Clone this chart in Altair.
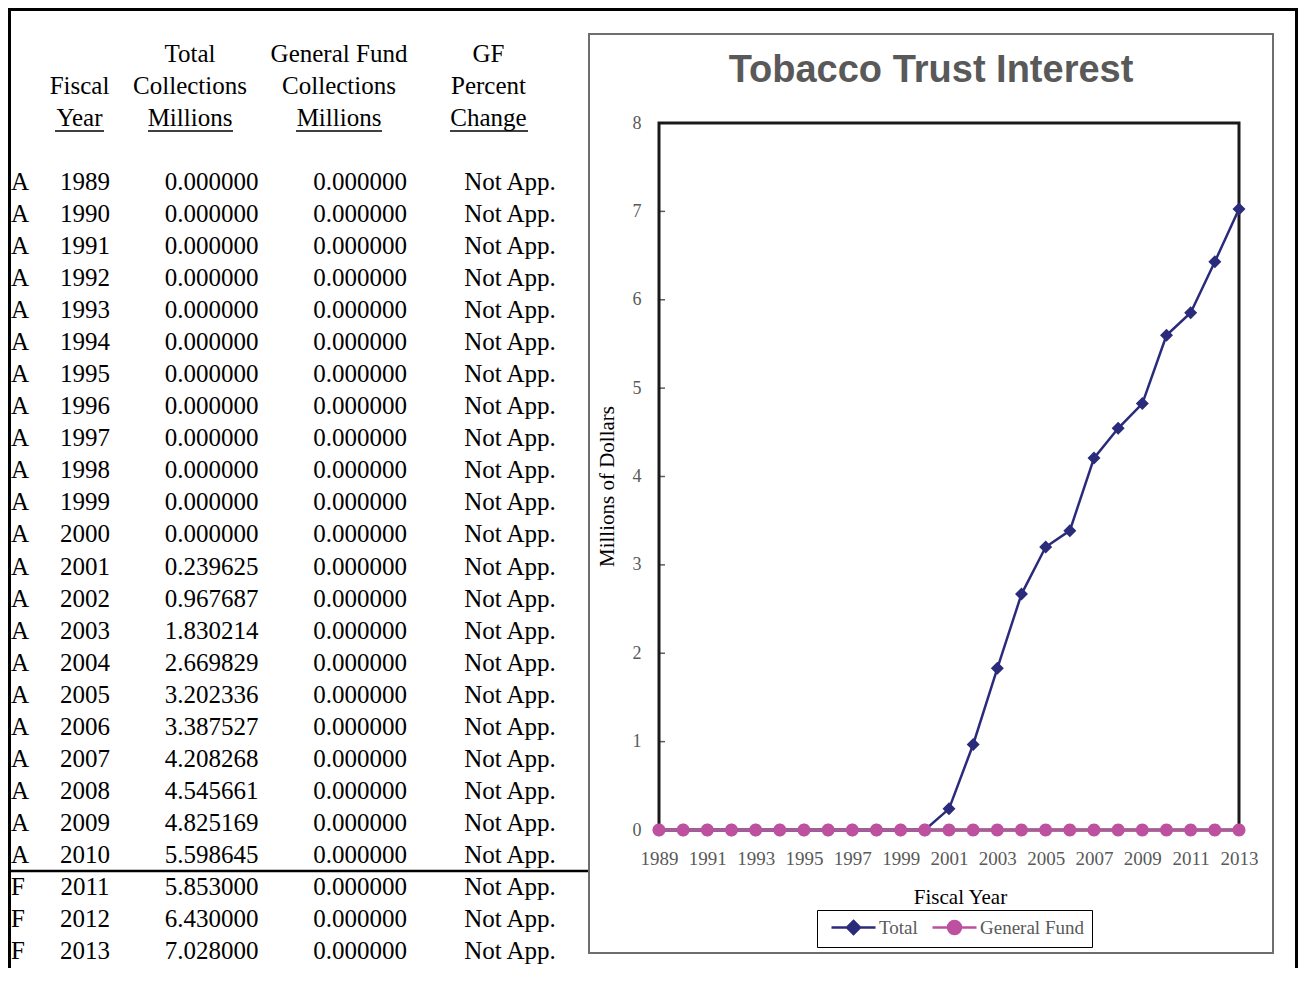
import altair as alt
import pandas as pd

# ---------------- data ----------------
years = list(range(1989, 2014))
flags = ["A"] * 22 + ["F"] * 3
total_collections = [0.0] * 12 + [0.239625, 0.967687, 1.830214, 2.669829, 3.202336,
                                  3.387527, 4.208268, 4.545661, 4.825169, 5.598645,
                                  5.853, 6.43, 7.028]
gf_collections = [0.0] * 25
gf_pct_change = ["Not App."] * 25

series_names = ["Total", "General Fund"]
series_colors = ["#2B2B7B", "#BD51A0"]

header_lines = [
    ["", "Fiscal", "Year"],
    ["Total", "Collections", "Millions"],
    ["General Fund", "Collections", "Millions"],
    ["GF", "Percent", "Change"],
]
x_tick_years = list(range(1989, 2014, 2))
y_ticks = list(range(0, 9))
chart_title = "Tobacco Trust Interest"
x_title = "Fiscal Year"
y_title = "Millions of Dollars"

# ---------------- layout (pixels) ----------------
W, H = 1290, 960
PX = [651, 1231]
PY = [822, 115]
ROWS_Y = [174, 943]
HDR_Y = [46, 110]
SERIF = "Liberation Serif"
TFS = 25

table = pd.DataFrame({"year": years, "flag": flags, "total": total_collections,
                      "gf": gf_collections, "pct": gf_pct_change})
long = pd.DataFrame({
    "series": [s for s in series_names for _ in years],
    "year": years * 2,
    "value": total_collections + gf_collections,
})
hdr = pd.DataFrame([{"col": i, "line": j, "label": t}
                    for i, lines in enumerate(header_lines)
                    for j, t in enumerate(lines) if t])
frame_df = pd.DataFrame({"x0": [years[0]], "x1": [years[-1]],
                         "y0": [y_ticks[0]], "y1": [y_ticks[-1]]})
ytick_df = pd.DataFrame({"v": y_ticks, "x0": [years[0]] * len(y_ticks)})
one = pd.DataFrame({"k": [0]})


def xs():
    return alt.Scale(domain=[years[0], years[-1]], range=PX, nice=False, zero=False)


def ys():
    return alt.Scale(domain=[y_ticks[0], y_ticks[-1]], range=PY, nice=False, zero=False)


def row_y():
    return alt.Y("year:Q", scale=alt.Scale(domain=[years[0], years[-1]], range=ROWS_Y,
                                           nice=False, zero=False), axis=None)


layers = []

# ---- decorative borders ----
layers.append(alt.Chart(one).mark_rule(color="black", strokeWidth=4).encode(
    x=alt.value(1), y=alt.value(0), y2=alt.value(H)))
layers.append(alt.Chart(one).mark_rule(color="black", strokeWidth=4).encode(
    x=alt.value(W - 1), y=alt.value(0), y2=alt.value(H)))
layers.append(alt.Chart(one).mark_rule(color="black", strokeWidth=4).encode(
    x=alt.value(0), x2=alt.value(W), y=alt.value(1)))
layers.append(alt.Chart(one).mark_rule(color="black", strokeWidth=2.5).encode(
    x=alt.value(0), x2=alt.value(582), y=alt.value(863)))
layers.append(alt.Chart(one).mark_rect(filled=False, stroke="#6e6e6e", strokeWidth=2).encode(
    x=alt.value(581), x2=alt.value(1265), y=alt.value(26), y2=alt.value(945)))

# ---- table headers ----
hdr_x = [71.5, 182, 331, 480.5]
for i, cx in enumerate(hdr_x):
    layers.append(alt.Chart(hdr).transform_filter(alt.datum.col == i).mark_text(
        align="center", baseline="middle", font=SERIF, fontSize=TFS, color="black").encode(
        x=alt.value(cx),
        y=alt.Y("line:Q", scale=alt.Scale(domain=[0, 2], range=HDR_Y, nice=False, zero=False), axis=None),
        text="label:N"))
for (a, b) in [(47, 96), (140, 225), (288, 374), (442, 520)]:
    layers.append(alt.Chart(one).mark_rule(color="black", strokeWidth=1.5).encode(
        x=alt.value(a), x2=alt.value(b), y=alt.value(123)))

# ---- table rows ----
layers.append(alt.Chart(table).mark_text(align="left", baseline="middle", font=SERIF,
                                         fontSize=TFS, color="black").encode(
    x=alt.value(3), y=row_y(), text="flag:N"))
layers.append(alt.Chart(table).mark_text(align="center", baseline="middle", font=SERIF,
                                         fontSize=TFS, color="black").encode(
    x=alt.value(77), y=row_y(), text=alt.Text("year:Q", format="d")))
layers.append(alt.Chart(table).mark_text(align="center", baseline="middle", font=SERIF,
                                         fontSize=TFS, color="black").encode(
    x=alt.value(203.5), y=row_y(), text=alt.Text("total:Q", format=".6f")))
layers.append(alt.Chart(table).mark_text(align="center", baseline="middle", font=SERIF,
                                         fontSize=TFS, color="black").encode(
    x=alt.value(352), y=row_y(), text=alt.Text("gf:Q", format=".6f")))
layers.append(alt.Chart(table).mark_text(align="center", baseline="middle", font=SERIF,
                                         fontSize=TFS, color="black").encode(
    x=alt.value(502), y=row_y(), text="pct:N"))

# ---- plot frame (through the chart scales) ----
layers.append(alt.Chart(frame_df).mark_rect(filled=False, stroke="#1a1a1a", strokeWidth=3).encode(
    x=alt.X("x0:Q", scale=xs(), axis=None), x2="x1:Q",
    y=alt.Y("y0:Q", scale=ys(), axis=None), y2="y1:Q"))
layers.append(alt.Chart(ytick_df).mark_tick(orient="horizontal", size=6, thickness=1.5,
                                            xOffset=3, color="#1a1a1a").encode(
    x=alt.X("x0:Q", scale=xs(), axis=None),
    y=alt.Y("v:Q", scale=ys(), axis=None)))

# ---- series ----
color_scale = alt.Scale(domain=series_names, range=series_colors)
# symbol paths in units of sqrt(size)/2 = 6 px: legend line +-22 px, marker +-6.5 px
diamond = "M-3.667,0H3.667M0,-1.083L1.083,0L0,1.083L-1.083,0Z"
circle = "M-3.667,0H3.667M1.083,0A1.083,1.083,0,1,1,-1.083,0A1.083,1.083,0,1,1,1.083,0Z"
shape_scale = alt.Scale(domain=series_names, range=[diamond, circle])

x_axis = alt.Axis(values=x_tick_years, format="d", orient="bottom", offset=-(H - PY[0]),
                  domain=False, ticks=False, tickSize=0, grid=False, labelPadding=19,
                  labelFont=SERIF, labelFontSize=19, labelColor="#595959", labelFlush=False,
                  labelOverlap=False, title=x_title, titleFont=SERIF, titleFontSize=21,
                  titleFontWeight="normal", titleColor="black", titleX=952, titleY=67,
                  titleBaseline="middle")
y_axis = alt.Axis(orient="left", offset=-PX[0], values=y_ticks, domain=False, ticks=False,
                  tickSize=0, grid=False, labelPadding=18, labelFont=SERIF, labelFontSize=18,
                  labelColor="#595959", labelFlush=False, title=y_title, titleFont=SERIF,
                  titleFontSize=21, titleFontWeight="normal", titleColor="black",
                  titleX=-52, titleY=478, titleBaseline="middle", titleAngle=270)

for i, (name, col) in enumerate(zip(series_names, series_colors)):
    layers.append(alt.Chart(long).transform_filter(alt.datum.series == name).mark_line(
        strokeWidth=2.5, color=col).encode(
        x=alt.X("year:Q", scale=xs(), axis=x_axis if i == 0 else None),
        y=alt.Y("value:Q", scale=ys(), axis=y_axis if i == 0 else None)))


def leg():
    return alt.Legend(title=None, orient="none", legendX=809, legendY=902, direction="horizontal",
                      padding=8, strokeColor="black", fillColor="white",
                      symbolSize=144, symbolStrokeWidth=2.5, symbolOpacity=1, symbolOffset=19,
                      labelFont=SERIF, labelFontSize=19, labelColor="#595959",
                      labelOffset=16, columnPadding=8)


layers.append(alt.Chart(long).mark_point(filled=True, opacity=1).encode(
    x=alt.X("year:Q", scale=xs(), axis=None),
    y=alt.Y("value:Q", scale=ys(), axis=None),
    color=alt.Color("series:N", scale=color_scale, legend=leg()),
    stroke=alt.Stroke("series:N", scale=color_scale, legend=leg()),
    shape=alt.Shape("series:N", scale=shape_scale, legend=leg()),
    size=alt.value(144),
    strokeWidth=alt.value(0)))

chart = alt.layer(*layers).resolve_scale(x="independent", y="independent").properties(
    width=W, height=H, padding=0,
    autosize=alt.AutoSizeParams(type="none"),
    title=alt.TitleParams(text=chart_title, font="Liberation Sans", fontSize=38,
                          fontWeight="bold", color="#595959", anchor="middle", frame="group",
                          dx=278, dy=103, baseline="middle", offset=0),
).configure_view(stroke=None)

chart.save("out.html", embed_options={"renderer": "svg", "actions": False})
